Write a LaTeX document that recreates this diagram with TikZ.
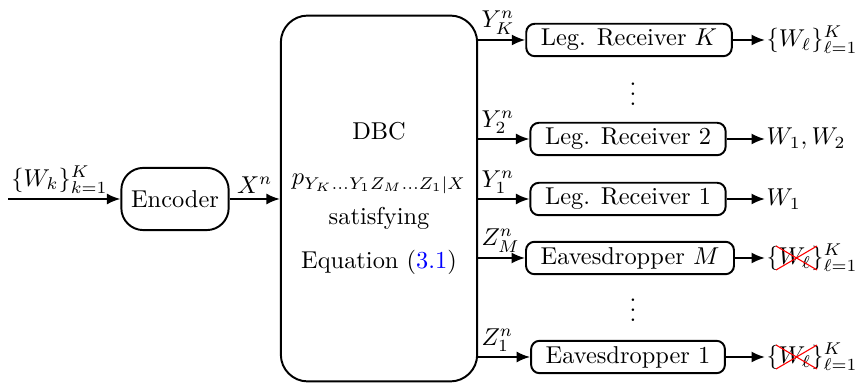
\documentclass[tikz,border=0pt]{standalone}
\usepackage{amsmath}
\usetikzlibrary{arrows.meta}
\begin{document}
\begin{tikzpicture}[x=0.41pt,y=-0.41pt,
  rx/.style={draw,line width=0.8pt,rounded corners=3.5pt,minimum height=13.3pt,inner xsep=6pt,inner ysep=1pt},
  arr/.style={line width=0.8pt,-{Latex[length=5.5pt,width=4.5pt]}},
  lbl/.style={inner sep=1pt},
  xmark/.style={draw=red,line width=0.45pt}]
\useasboundingbox (0,0) rectangle (861,383);
% boxes
\node[draw,line width=0.8pt,rounded corners=9pt,minimum width=44pt,minimum height=25.5pt,inner sep=2pt] (enc) at (175,199) {Encoder};
\node[draw,line width=0.8pt,rounded corners=11pt,minimum width=80.5pt,minimum height=150pt] (dbc) at (379,198.5) {};
\node (t1) at (379,131) {DBC};
\node (t2) at (379,184) {$p_{Y_K\ldots Y_1Z_M\ldots Z_1|X}$};
\node (t3) at (379,218) {satisfying};
\node (t4) at (379,262) {Equation (\textcolor{blue}{3.1})};
\node[rx] (rK) at (629,40) {Leg. Receiver $K$};
\node[rx] (r2) at (628,139) {Leg. Receiver 2};
\node[rx] (r1) at (628,199) {Leg. Receiver 1};
\node[rx] (eM) at (630,258) {Eavesdropper $M$};
\node[rx] (e1) at (628,357) {Eavesdropper 1};
\node (d1) at (633,87) {$\vdots$};
\node (d2) at (633,303) {$\vdots$};
% input
\coordinate (in) at (8,199);
\draw[arr] (in) -- node[lbl,pos=0,anchor=south west,yshift=1pt] {$\{W_k\}_{k=1}^K$} (enc.west);
\draw[arr] (enc.east) -- node[lbl,above,yshift=1pt] {$X^n$} (dbc.west |- enc.east);
% channel outputs
\foreach \b/\l in {rK/Y_K^n, r2/Y_2^n, r1/Y_1^n, eM/Z_M^n, e1/Z_1^n}{
  \draw[arr] (dbc.east |- \b.west) -- node[lbl,pos=0,anchor=south west,yshift=1pt] {$\l$} (\b.west);
}
% outputs
\foreach \b/\n in {rK/oK, r2/o2, r1/o1, eM/oM, e1/o1e}{
  \coordinate (\n) at (765,0 |- \b.east);
}
\node[anchor=west,inner sep=0.5pt] (tK) at (oK) {$\{W_\ell\}_{\ell=1}^K$};
\node[anchor=west,inner sep=0.5pt] (t2o) at (o2) {$W_1,W_2$};
\node[anchor=west,inner sep=0.5pt] (t1o) at (o1) {$W_1$};
\node[anchor=west,inner sep=0.5pt] (tM) at (oM) {$\{W_\ell\}_{\ell=1}^K$};
\node[anchor=west,inner sep=0.5pt] (t1e) at (o1e) {$\{W_\ell\}_{\ell=1}^K$};
\foreach \t in {tM,t1e}{
  \draw[xmark] ([shift={(11,-12)}]\t.west) -- ([shift={(52,12)}]\t.west);
  \draw[xmark] ([shift={(11,12)}]\t.west) -- ([shift={(52,-12)}]\t.west);
}
\draw[arr] (rK.east) -- (tK.west);
\draw[arr] (r2.east) -- (t2o.west);
\draw[arr] (r1.east) -- (t1o.west);
\draw[arr] (eM.east) -- (tM.west);
\draw[arr] (e1.east) -- (t1e.west);
\end{tikzpicture}
\end{document}
